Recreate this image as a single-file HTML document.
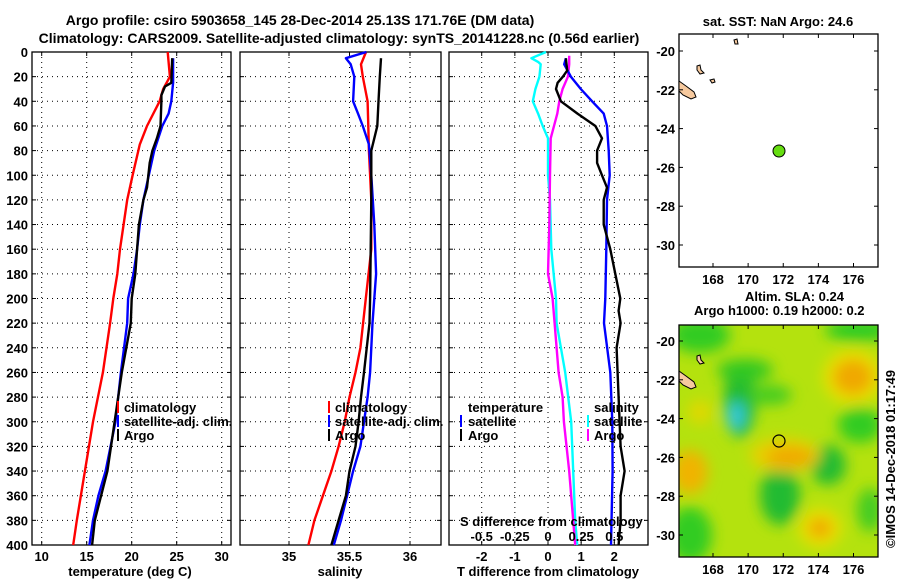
<!DOCTYPE html>
<html><head><meta charset="utf-8"><style>
html,body{margin:0;padding:0;background:#fff}
svg{display:block}
text{font-family:"Liberation Sans",sans-serif;font-weight:bold;font-size:13px;fill:#000}
.ttl{font-size:14px}
</style></head><body>
<svg id="chart" width="900" height="580" viewBox="0 0 900 580" xmlns="http://www.w3.org/2000/svg">
<defs>
<clipPath id="mapclip"><rect x="679" y="325" width="199" height="232"/></clipPath>
<filter id="blur" x="-50%" y="-50%" width="200%" height="200%"><feGaussianBlur stdDeviation="7"/></filter>
</defs>
<text class="ttl" x="300" y="25" text-anchor="middle">Argo profile: csiro 5903658_145 28-Dec-2014 25.13S 171.76E (DM data)</text>
<text class="ttl" x="339" y="43" text-anchor="middle">Climatology: CARS2009. Satellite-adjusted climatology: synTS_20141228.nc (0.56d earlier)</text>
<g id="plots"></g>
<g>
<text x="778" y="26" text-anchor="middle">sat. SST: NaN Argo: 24.6</text>
<rect x="679" y="34" width="199" height="233" fill="#fff" stroke="#000" stroke-width="1.3"/>
<path d="M679,81 L686,86 L694,92 L696,97 L691,99 L683,95 L679,91Z" fill="#f6c99e" stroke="#000" stroke-width="1"/>
<path d="M697,66 L700,65 L701,70 L704,73 L700,74 L697,70Z M710,80 L714,79 L715,82 L712,83Z" fill="#f6c99e" stroke="#000" stroke-width="1"/>
<path d="M734,40 L737,39 L738,44 L735,44Z" fill="#f6c99e" stroke="#000" stroke-width="1"/>
<circle cx="779" cy="151" r="6" fill="#66dd11" stroke="#000" stroke-width="1"/>
</g>
<g>
<text x="745" y="301">Altim. SLA: 0.24</text>
<text x="694" y="315">Argo h1000: 0.19 h2000: 0.2</text>
<g clip-path="url(#mapclip)">
<rect x="679" y="325" width="199" height="232" fill="#b4e20e"/>
<g filter="url(#blur)">
<ellipse cx="700" cy="335" rx="30" ry="18" fill="#33cc22"/>
<ellipse cx="860" cy="330" rx="35" ry="12" fill="#33cc22"/>
<ellipse cx="740" cy="400" rx="16" ry="38" fill="#22bb33"/>
<ellipse cx="745" cy="370" rx="28" ry="11" fill="#33c822"/>
<ellipse cx="770" cy="395" rx="22" ry="10" fill="#44cc22"/>
<ellipse cx="860" cy="425" rx="22" ry="18" fill="#33cc22"/>
<ellipse cx="780" cy="495" rx="20" ry="30" fill="#22bb33"/>
<ellipse cx="828" cy="465" rx="18" ry="20" fill="#22bb33"/>
<ellipse cx="690" cy="535" rx="22" ry="28" fill="#33cc22"/>
<ellipse cx="870" cy="510" rx="13" ry="22" fill="#44cc22"/>
<ellipse cx="853" cy="377" rx="30" ry="28" fill="#e8e000"/>
<ellipse cx="853" cy="377" rx="20" ry="18" fill="#f0a800"/>
<ellipse cx="785" cy="455" rx="35" ry="17" fill="#e8d000"/>
<ellipse cx="790" cy="457" rx="24" ry="10" fill="#f0a800"/>
<ellipse cx="690" cy="472" rx="18" ry="22" fill="#f0b400"/>
<ellipse cx="820" cy="528" rx="22" ry="20" fill="#e8e000"/>
<ellipse cx="820" cy="528" rx="12" ry="10" fill="#f0a800"/>
<ellipse cx="700" cy="412" rx="12" ry="12" fill="#e0d800"/>
<ellipse cx="736" cy="416" rx="9" ry="14" fill="#33c8dd"/>
</g>
<path d="M679,371 L686,376 L694,382 L696,387 L691,389 L683,385 L679,381Z M697,356 L700,355 L701,360 L704,363 L700,364 L697,360Z" fill="#f6c99e" stroke="#000" stroke-width="1"/>
</g>
<rect x="679" y="325" width="199" height="232" fill="none" stroke="#000" stroke-width="1.3"/>
<circle cx="779" cy="441" r="6" fill="none" stroke="#000" stroke-width="1.2"/>
<text transform="translate(895,548) rotate(-90)" font-size="12">©IMOS 14-Dec-2018 01:17:49</text>
</g>
<g id="maps"></g>
</svg>
<script>
// ---- data ----
const depthTicks = [0,20,40,60,80,100,120,140,160,180,200,220,240,260,280,300,320,340,360,380,400];
const tempTicks = [10,15,20,25,30];
const salTicks = [35,35.5,36];
const salTickLabels = ["35","35.5","36"];
const dTTicks = [-2,-1,0,1,2];
const dSTicks = [-0.5,-0.25,0,0.25,0.5];
const dSTickLabels = ["-0.5","-0.25","0","0.25","0.5"];
const lonTicks = [168,170,172,174,176];
const latTicks = [-20,-22,-24,-26,-28,-30];

const tempClimDepth = [0,20,30,40,60,75,100,120,140,160,180,200,220,260,300,340,380,400];
const tempClim = [24.0,24.25,23.5,23.1,21.7,20.9,20.1,19.5,19.1,18.7,18.4,17.96,17.6,16.8,15.7,14.8,13.9,13.5];
const tempSatDepth = [5,25,40,50,60,80,100,120,140,160,180,200,220,260,300,340,360,380,400];
const tempSat = [24.6,24.6,24.4,24.1,23.4,22.5,21.9,21.3,20.9,20.6,20.2,19.6,19.5,18.8,18.2,17.1,16.3,15.7,15.3];
const tempArgoDepth = [5,25,28,35,40,60,70,80,90,110,120,140,160,180,200,220,240,260,300,340,360,380,400];
const tempArgo = [24.5,24.4,23.7,23.3,23.3,23.2,22.8,22.3,22.0,21.7,21.3,20.8,20.6,20.4,20.0,19.9,19.4,18.9,18.1,17.3,16.6,15.9,15.6];

const salClimDepth = [0,10,20,40,60,80,120,160,200,240,260,280,300,320,340,360,380,400];
const salClim = [35.636,35.595,35.61,35.65,35.655,35.66,35.68,35.68,35.635,35.59,35.55,35.5,35.46,35.41,35.35,35.28,35.21,35.16];
const salSatDepth = [0,5,10,20,40,50,60,75,100,140,180,200,220,260,280,320,340,360,380,400];
const salSat = [35.64,35.47,35.51,35.54,35.53,35.57,35.61,35.66,35.68,35.705,35.72,35.705,35.69,35.67,35.65,35.59,35.53,35.48,35.43,35.37];
const salArgoDepth = [5,20,40,60,70,80,120,160,200,220,260,280,300,320,340,360,380,400];
const salArgo = [35.76,35.75,35.74,35.73,35.705,35.68,35.68,35.675,35.67,35.665,35.62,35.595,35.575,35.55,35.5,35.47,35.41,35.35];

const dTSatDepth = [5,10,20,30,40,50,60,80,100,120,160,200,220,260,300,340,400];
const dTSat = [0.54,0.49,0.69,0.99,1.33,1.68,1.78,1.83,1.86,1.78,1.76,1.73,1.69,1.88,1.94,1.95,1.9];
const dTArgoDepth = [5,15,20,25,30,40,50,60,70,80,90,100,110,120,140,160,180,200,210,220,240,280,320,340,360,380,400];
const dTArgo = [0.54,0.58,0.45,0.29,0.24,0.39,0.89,1.43,1.63,1.48,1.48,1.63,1.78,1.68,1.68,1.88,2.03,2.18,2.13,2.19,2.07,2.13,2.19,2.31,2.19,2.19,2.13];
const dSSatDepth = [0,5,8,10,20,30,40,50,60,70,100,120,160,200,220,260,300,340,380,400];
const dSSat = [-0.015,-0.125,-0.075,-0.055,-0.065,-0.095,-0.115,-0.075,-0.04,0,0,0.015,0.025,0.06,0.065,0.13,0.175,0.19,0.205,0.22];
const dSArgoDepth = [3,10,20,30,40,50,60,70,100,140,180,200,220,260,280,300,340,380,400];
const dSArgo = [0.16,0.16,0.15,0.11,0.085,0.07,0.045,0.02,0.015,0.01,0,0.035,0.05,0.08,0.11,0.12,0.16,0.19,0.205];

// ---- axes ----
const NS = "http://www.w3.org/2000/svg";
const Y0 = 52, Y1 = 545;
function yD(d){ return Y0 + d*(Y1-Y0)/400; }
function linear(d0,d1,r0,r1){ return v => r0 + (v-d0)*(r1-r0)/(d1-d0); }
const xTemp = linear(10,30,41.7,221.7);
const xSal = linear(35,36,289,410);
const xDT = linear(-2,2,481.7,614.3);
const xDS = linear(-0.5,0.5,481.7,614.3);
const xLon = linear(168,176,713,853.5);
const yLatTop = linear(-20,-30,51,245);
const yLatBot = linear(-20,-30,341,535);

const plots = document.getElementById('plots');
const maps = document.getElementById('maps');
function el(tag, attrs, parent){
  const e = document.createElementNS(NS, tag);
  for (const k in attrs) e.setAttribute(k, attrs[k]);
  (parent||plots).appendChild(e);
  return e;
}
function txt(x,y,s,anchor,parent){
  const t = el('text',{x:x,y:y,'text-anchor':anchor||'start'},parent);
  t.textContent = s;
  return t;
}

const panels = [
  {name:'temperature-panel', x0:32, x1:231, xf:xTemp, ticks:tempTicks, labels:tempTicks.map(String), title:'temperature (deg C)', tx:130},
  {name:'salinity-panel', x0:240, x1:441, xf:xSal, ticks:salTicks, labels:salTickLabels, title:'salinity', tx:340},
  {name:'difference-panel', x0:449, x1:648, xf:xDT, ticks:dTTicks, labels:dTTicks.map(String), title:'T difference from climatology', tx:548}
];

panels.forEach((p,pi)=>{
  const g = el('g',{});
  
  
  depthTicks.forEach(d=>{
    if (d>0 && d<400) {
      const l = el('line',{x1:p.x0,x2:p.x1,y1:yD(d),y2:yD(d),stroke:'#000','stroke-width':1,'stroke-dasharray':'1,4'},g);
      
      
    }
    el('line',{x1:p.x0,x2:p.x0+4,y1:yD(d),y2:yD(d),stroke:'#000'},g);
    el('line',{x1:p.x1-4,x2:p.x1,y1:yD(d),y2:yD(d),stroke:'#000'},g);
    if (pi===0) {
      const t = txt(p.x0-4, yD(d)+5, String(d), 'end', g);
      
      
    }
  });
  p.ticks.forEach((v,i)=>{
    const x = p.xf(v);
    const l = el('line',{x1:x,x2:x,y1:Y0,y2:Y1,stroke:'#000','stroke-width':1,'stroke-dasharray':'1,4'},g);
    
    
    el('line',{x1:x,x2:x,y1:Y1-4,y2:Y1,stroke:'#000'},g);
    el('line',{x1:x,x2:x,y1:Y0,y2:Y0+4,stroke:'#000'},g);
    const t = txt(x, 561, p.labels[i], 'middle', g);
    
    
  });
  const r = el('rect',{x:p.x0,y:Y0,width:p.x1-p.x0,height:Y1-Y0,fill:'none',stroke:'#000','stroke-width':1.3},g);
  
  
  const at = txt(p.tx, 576, p.title, 'middle', g);
  
  
});

function series(depths, vals, xf, color, name){
  const pts = depths.map((d,i)=> xf(vals[i]).toFixed(1)+','+yD(d).toFixed(1)).join(' ');
  const pl = el('polyline',{points:pts,fill:'none',stroke:color,'stroke-width':2.4,'stroke-linejoin':'round'});
  
  
}
series(tempClimDepth,tempClim,xTemp,'#ff0000','temp-climatology-line');
series(tempSatDepth,tempSat,xTemp,'#0000ff','temp-satellite-line');
series(tempArgoDepth,tempArgo,xTemp,'#000000','temp-argo-line');
series(salClimDepth,salClim,xSal,'#ff0000','sal-climatology-line');
series(salSatDepth,salSat,xSal,'#0000ff','sal-satellite-line');
series(salArgoDepth,salArgo,xSal,'#000000','sal-argo-line');
series(dSSatDepth,dSSat,xDS,'#00ffff','sdiff-satellite-line');
series(dSArgoDepth,dSArgo,xDS,'#ff00ff','sdiff-argo-line');
series(dTSatDepth,dTSat,xDT,'#0000ff','tdiff-satellite-line');
series(dTArgoDepth,dTArgo,xDT,'#000000','tdiff-argo-line');

const sTitle = txt(460, 526, 'S difference from climatology', 'start');


dSTicks.forEach((v,i)=>{
  const t = txt(xDS(v), 541, dSTickLabels[i], 'middle');
  
  
});

function legendEntry(mx, tx, y, color, label){
  const m = el('line',{x1:mx,x2:mx,y1:y-11,y2:y+1,stroke:color,'stroke-width':2});
  
  
  const t = txt(tx, y, label, 'start');
  
  
}
legendEntry(118,124,412,'#ff0000','climatology');
legendEntry(118,124,426,'#0000ff','satellite-adj. clim.');
legendEntry(118,124,440,'#000000','Argo');
legendEntry(329,335,412,'#ff0000','climatology');
legendEntry(329,335,426,'#0000ff','satellite-adj. clim.');
legendEntry(329,335,440,'#000000','Argo');
const lt = txt(468,412,'temperature','start');


const ls = txt(594,412,'salinity','start');


legendEntry(461,468,426,'#0000ff','satellite');
legendEntry(461,468,440,'#000000','Argo');
legendEntry(588,594,426,'#00ffff','satellite');
legendEntry(588,594,440,'#ff00ff','Argo');

[[34,267,yLatTop],[325,557,yLatBot]].forEach(m=>{
  const [top,bot,yf] = m;
  lonTicks.forEach(v=>{
    const x = xLon(v);
    el('line',{x1:x,x2:x,y1:bot-4,y2:bot,stroke:'#000'},maps);
    el('line',{x1:x,x2:x,y1:top,y2:top+4,stroke:'#000'},maps);
    const t = txt(x, bot+17, String(v), 'middle', maps);
    
    
  });
  latTicks.forEach(v=>{
    const y = yf(v);
    el('line',{x1:679,x2:683,y1:y,y2:y,stroke:'#000'},maps);
    el('line',{x1:874,x2:878,y1:y,y2:y,stroke:'#000'},maps);
    const t = txt(675, y+5, String(v), 'end', maps);
    
    
  });
});
</script>
</body></html>
